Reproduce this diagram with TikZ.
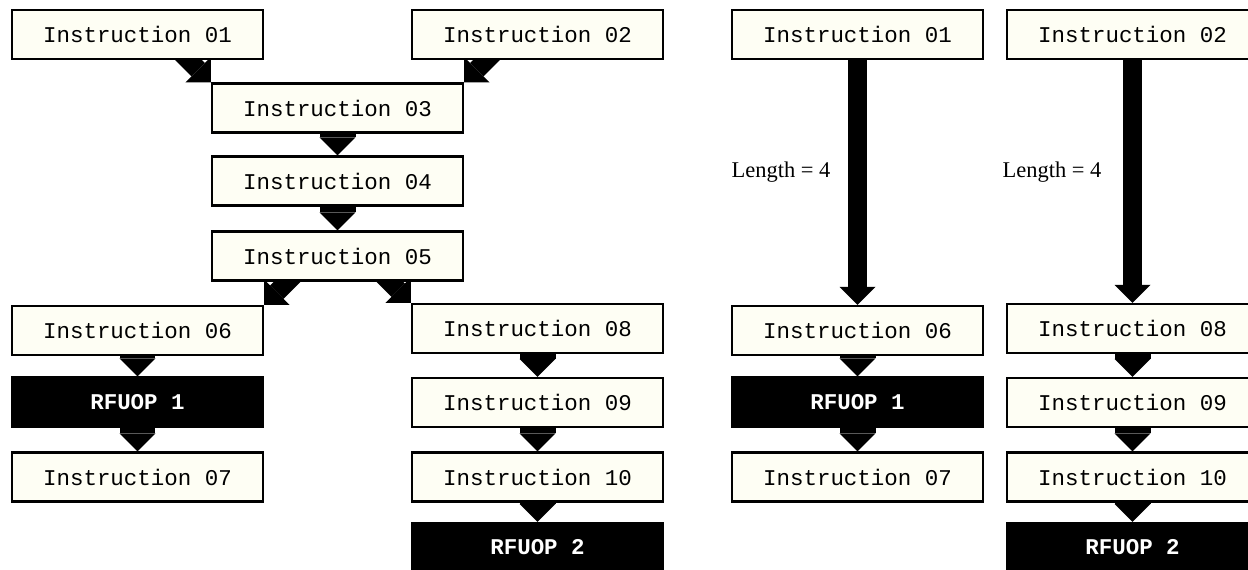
\documentclass[tikz,border=0pt]{standalone}
\usepackage{fontspec}
\setmainfont{Liberation Serif}
\setmonofont{Liberation Mono}
\usepackage{tikz}
\usetikzlibrary{arrows.meta,calc,backgrounds}
\definecolor{boxcream}{HTML}{FEFEF4}

\begin{document}
\begin{tikzpicture}[
            x=0.02cm, y=-0.02cm,
            instr/.style={draw=black, line width=0.046cm, fill=boxcream,
                minimum width=5.02cm, minimum height=0.98cm, inner sep=0pt,
                font=\ttfamily\fontsize{12.8}{15}\selectfont},
            rfuop/.style={instr, fill=black, text=white,
                font=\ttfamily\bfseries\fontsize{12.8}{15}\selectfont},
            stub/.style={line width=0.72cm,
                -{Triangle[width=0.72cm, length=0.36cm, line width=0pt]}},
            fat/.style={line width=0.38cm,
                -{Triangle[width=0.72cm, length=0.36cm, line width=0pt]}},
            len/.style={font=\fontsize{12.8}{15}\selectfont}
        ]
        \useasboundingbox (0,0) rectangle (1248,569);
        \clip (0,0) rectangle (1248,569);

        %================================================
        % Left: merged flow
        %================================================
        \node[instr] (I01) at (137.5,34.5) {Instruction 01};
        \node[instr] (I02) at (537.5,34.5) {Instruction 02};
        \node[instr] (I03) at (337.5,108) {Instruction 03};
        \node[instr] (I04) at (337.5,181) {Instruction 04};
        \node[instr] (I05) at (337.5,256) {Instruction 05};

        \node[instr] (I06) at (137.5,330.5) {Instruction 06};
        \node[rfuop] (R1) at (137.5,402) {RFUOP 1};
        \node[instr] (I07) at (137.5,477) {Instruction 07};

        \node[instr] (I08) at (537.5,328.5) {Instruction 08};
        \node[instr] (I09) at (537.5,402.5) {Instruction 09};
        \node[instr] (I10) at (537.5,477) {Instruction 10};
        \node[rfuop] (R2) at (537.5,547.5) {RFUOP 2};

        \begin{scope}[on background layer]
        \draw[fat] ($(I03.north west)+(-40,-40)$) -- (I03.north west);
        \draw[fat] ($(I03.north east)+(40,-40)$) -- (I03.north east);
        \draw[stub] (I03.south) -- (I04.north);
        \draw[stub] (I04.south) -- (I05.north);
        \draw[fat] ($(I06.north east)+(40,-40)$) -- (I06.north east);
        \draw[fat] ($(I08.north west)+(-40,-40)$) -- (I08.north west);
        \draw[stub] (I06.south) -- (R1.north);
        \draw[stub] (R1.south) -- (I07.north);
        \draw[stub] (I08.south) -- (I09.north);
        \draw[stub] (I09.south) -- (I10.north);
        \draw[stub] (I10.south) -- (R2.north);
        \end{scope}

        %================================================
        % Right: two separate flows
        %================================================
        \node[instr] (I01r) at (857.5,34.5) {Instruction 01};
        \node[instr] (I06r) at (857.5,330.5) {Instruction 06};
        \node[rfuop] (R1r) at (857.5,402) {RFUOP 1};
        \node[instr] (I07r) at (857.5,477) {Instruction 07};

        \node[instr] (I02r) at (1132.5,34.5) {Instruction 02};
        \node[instr] (I08r) at (1132.5,328.5) {Instruction 08};
        \node[instr] (I09r) at (1132.5,402.5) {Instruction 09};
        \node[instr] (I10r) at (1132.5,477) {Instruction 10};
        \node[rfuop] (R2r) at (1132.5,547.5) {RFUOP 2};

        \node[len] (len1) at (781,172) {Length = 4};
        \node[len] (len2) at (1052,172) {Length = 4};

        \begin{scope}[on background layer]
        \draw[fat] (I01r.south) -- (I06r.north);
        \draw[stub] (I06r.south) -- (R1r.north);
        \draw[stub] (R1r.south) -- (I07r.north);
        \draw[fat] (I02r.south) -- (I08r.north);
        \draw[stub] (I08r.south) -- (I09r.north);
        \draw[stub] (I09r.south) -- (I10r.north);
        \draw[stub] (I10r.south) -- (R2r.north);
        \end{scope}

        \end{tikzpicture}
\end{document}
